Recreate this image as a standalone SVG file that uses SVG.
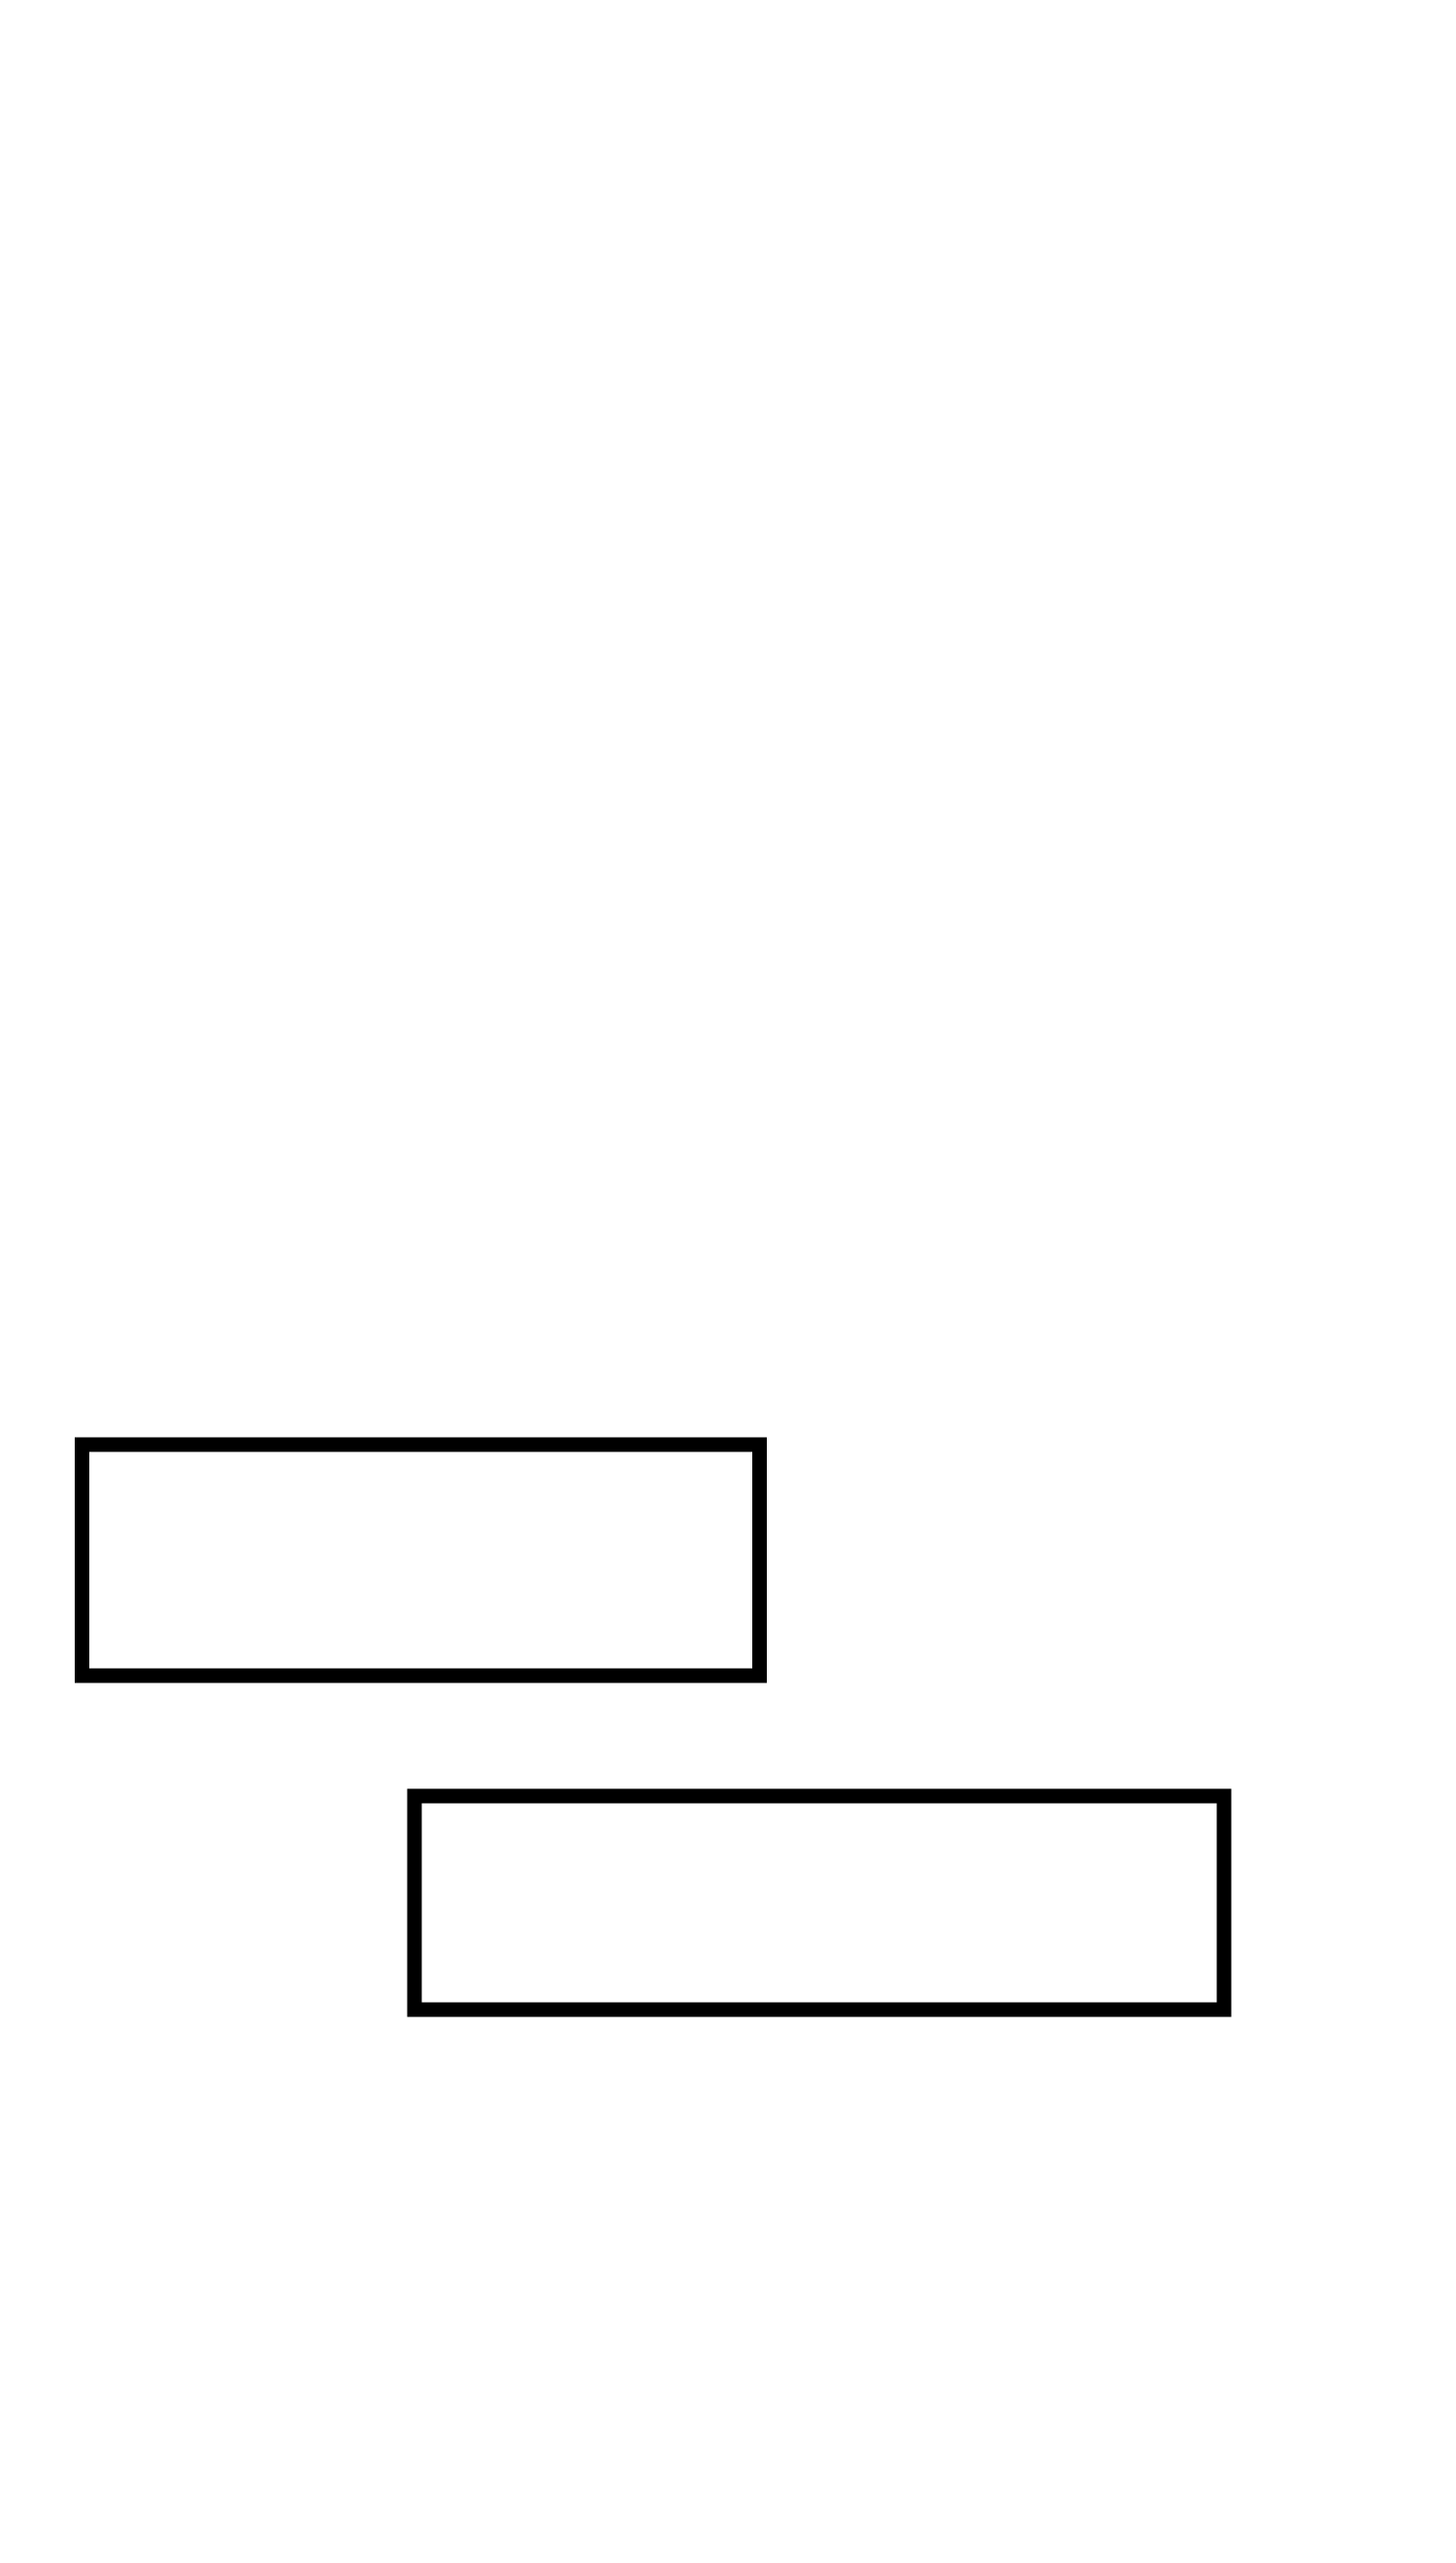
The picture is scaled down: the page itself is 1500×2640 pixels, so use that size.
<svg xmlns="http://www.w3.org/2000/svg" width="1500" height="2640" viewBox="0 0 1500 2640">
  <style>
    .box { fill: #ffffff; stroke: #000000; stroke-width: 15; stroke-linejoin: miter; }
  </style>
  <rect x="0" y="0" width="1500" height="2640" fill="#ffffff"/>
  <g id="connectors"></g>
  <g id="node-1">
    <rect class="box" x="84.5" y="1488" width="698" height="238"/>
  </g>
  <g id="node-2">
    <rect class="box" x="427" y="1850" width="834" height="220"/>
  </g>
</svg>
